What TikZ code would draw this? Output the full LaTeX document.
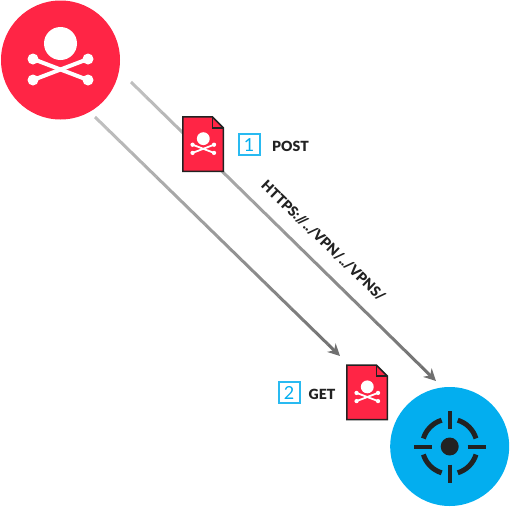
\documentclass[tikz,border=0pt]{standalone}
\usepackage{fontspec}
\setmainfont[BoldFont={Lato Black}]{Lato}
\usetikzlibrary{calc, positioning, arrows.meta}
\definecolor{skullred}{HTML}{FF2545}
\definecolor{targetblue}{HTML}{03AEEF}
\definecolor{inkdark}{HTML}{222222}
\tikzset{
  bigdisc/.style={circle, inner sep=0pt, minimum size=119pt},
  badge/.style={draw=targetblue!85, line width=2pt, inner sep=0pt, minimum width=21pt, minimum height=21pt, text=targetblue, font=\fontsize{18}{18}\selectfont},
  verb/.style={text=inkdark, inner sep=0pt, font=\fontsize{14}{14}\selectfont\bfseries},
  pics/skull/.style={code={
    \fill[white] (0,-26) circle (16.5);
    \draw[white, line width=#1] (-27.5,-10.5) -- (27.5,10.5);
    \draw[white, line width=#1] (-27.5,10.5) -- (27.5,-10.5);
    \foreach \sx in {-27.5,27.5} \foreach \sy in {-10.5,10.5}
      \fill[white] (\sx,\sy) circle (5.5);
  }},
  pics/skullfile/.style={code={
    \draw[fill=skullred, draw=inkdark, line width=1.5pt, line join=miter] (0,0) -- (29.5,0) -- (40.5,11) -- (40.5,54.5) -- (0,54.5) -- cycle;
    \draw[inkdark, line width=1.5pt] (29.5,0) -- (29.5,11) -- (40.5,11);
    \pic[scale=0.39] at (20.5,32) {skull=1.8pt};
  }},
}

\begin{document}
\begin{tikzpicture}[x=1pt, y=-1pt]
\useasboundingbox (0,0) rectangle (512,512);

% Connectors
\coordinate (poststart) at (131,82);
\coordinate (postend) at (436,381);
\coordinate (getstart) at (95,117);
\coordinate (getend) at (340,356);
\foreach \from/\to in {poststart/postend, getstart/getend} {
  \foreach \i [evaluate=\i as \shade using 25+\i*1.6, evaluate=\i as \next using (\i+1)/20] in {0,...,18}
    \draw[black!\shade, line width=3pt] ($(\from)!\i/20!(\to)$) -- ($(\from)!\next!(\to)$);
  \draw[black!56, line width=3pt, -{Stealth[length=12pt, width=12pt]}] ($(\from)!0.95!(\to)$) -- (\to);
}

% Attacker
\node[bigdisc, fill=skullred] (attacker) at (60.5,60) {};
\pic at (60.5,69.5) {skull=4pt};

% Target
\node[bigdisc, fill=targetblue] (target) at (449.7,446.5) {};
\fill[inkdark] (target.center) circle (9);
\foreach \a in {0,90,180,270} {
  \draw[inkdark, line width=4pt] ($(target.center)+(\a:18)$) -- ($(target.center)+(\a:36)$);
  \draw[inkdark, line width=5pt] ($(target.center)+(\a+17:27.5)$) arc[start angle=\a+17, end angle=\a+73, radius=27.5];
}

% Step 1: post
\pic at (182.8,116.8) {skullfile};
\node[badge] (one) at (249,144.7) {1};
\node[verb] (post) at (290.5,146) {POST};
\node[verb, rotate=-44] (path) at (323.5,241) {HTTPS://../VPN/../VPNS/};

% Step 2: get
\pic at (346.8,365) {skullfile};
\node[badge] (two) at (289,392.7) {2};
\node[verb] (get) at (322,394) {GET};
\end{tikzpicture}
\end{document}
